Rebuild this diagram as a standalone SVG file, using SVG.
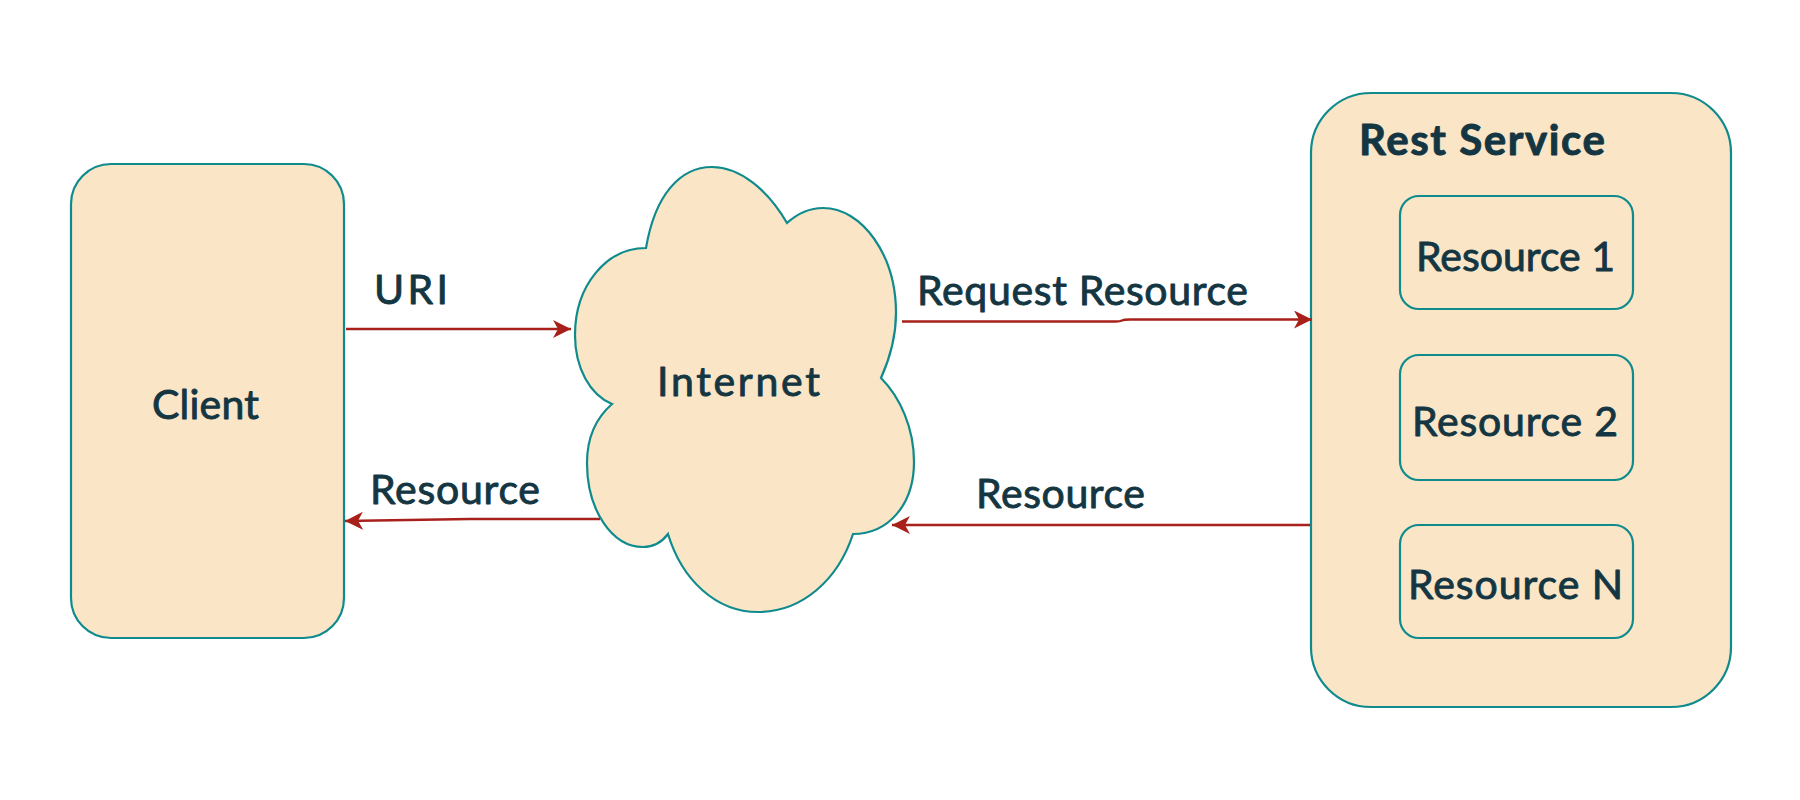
<svg xmlns="http://www.w3.org/2000/svg" width="1800" height="800" viewBox="0 0 1800 800">
<style>
.n{fill:#FAE5C7;stroke:#0F8B8D;stroke-width:2.2}
.t{font-family:"Lato","Open Sans",sans-serif;font-size:41px;fill:#143642;stroke:#143642;stroke-width:.9;stroke-linejoin:round}
.b{font-weight:700;font-size:42px}
.c{fill:none;stroke:#A8201A;stroke-width:2.4;marker-end:url(#a)}
</style>
<defs><marker id="a" markerUnits="userSpaceOnUse" markerWidth="20" markerHeight="20" refX="18" refY="9" orient="auto"><path d="M0,0L18,9L0,18L5,9Z" fill="#A8201A"/></marker></defs>
<rect width="1800" height="800" fill="#fff"/>
<g id="client"><rect class="n" x="71" y="164" width="273" height="474" rx="40"/><text class="t" x="152" y="419" textLength="107">Client</text></g>
<g id="internet"><path class="n" d="M646,248C655,195 680,167 712,167C740,167 768,190 787,223C797,214 810,208 823,208C862,208 896,255 896,313C896,338 890,358 881,378C900,397 914,428 914,462C914,505 888,534 853,534C838,580 802,612 758,612C716,612 682,580 668,534C662,542 653,547 643,547C612,547 587,510 587,463C587,438 596,418 612,404C590,395 575,368 575,335C575,286 606,248 646,248Z"/><text class="t" x="657" y="396" textLength="163">Internet</text></g>
<g id="rest-service"><rect class="n" x="1311" y="93" width="420" height="614" rx="60"/><text class="t b" x="1359" y="155" textLength="246">Rest Service</text></g>
<g id="resource-1"><rect class="n" x="1400" y="196" width="233" height="113" rx="19"/><text class="t" x="1416" y="271" textLength="199">Resource 1</text></g>
<g id="resource-2"><rect class="n" x="1400" y="355" width="233" height="125" rx="19"/><text class="t" x="1412" y="436" textLength="206">Resource 2</text></g>
<g id="resource-n"><rect class="n" x="1400" y="525" width="233" height="113" rx="19"/><text class="t" x="1408" y="599" textLength="215">Resource N</text></g>
<g id="connectors">
<path class="c" d="M346,329H571"/>
<path class="c" d="M600,519H470L345,521"/>
<path class="c" d="M902,321.500H1116Q1120,321.500 1122,320.500Q1124,319.500 1130,319.500H1312"/>
<path class="c" d="M1310,525H892"/>
</g>
<g id="labels">
<text class="t" x="374" y="304" textLength="74">URI</text>
<text class="t" x="370" y="504" textLength="170">Resource</text>
<text class="t" x="917" y="305" textLength="331">Request Resource</text>
<text class="t" x="976" y="508" textLength="169">Resource</text>
</g>
</svg>
